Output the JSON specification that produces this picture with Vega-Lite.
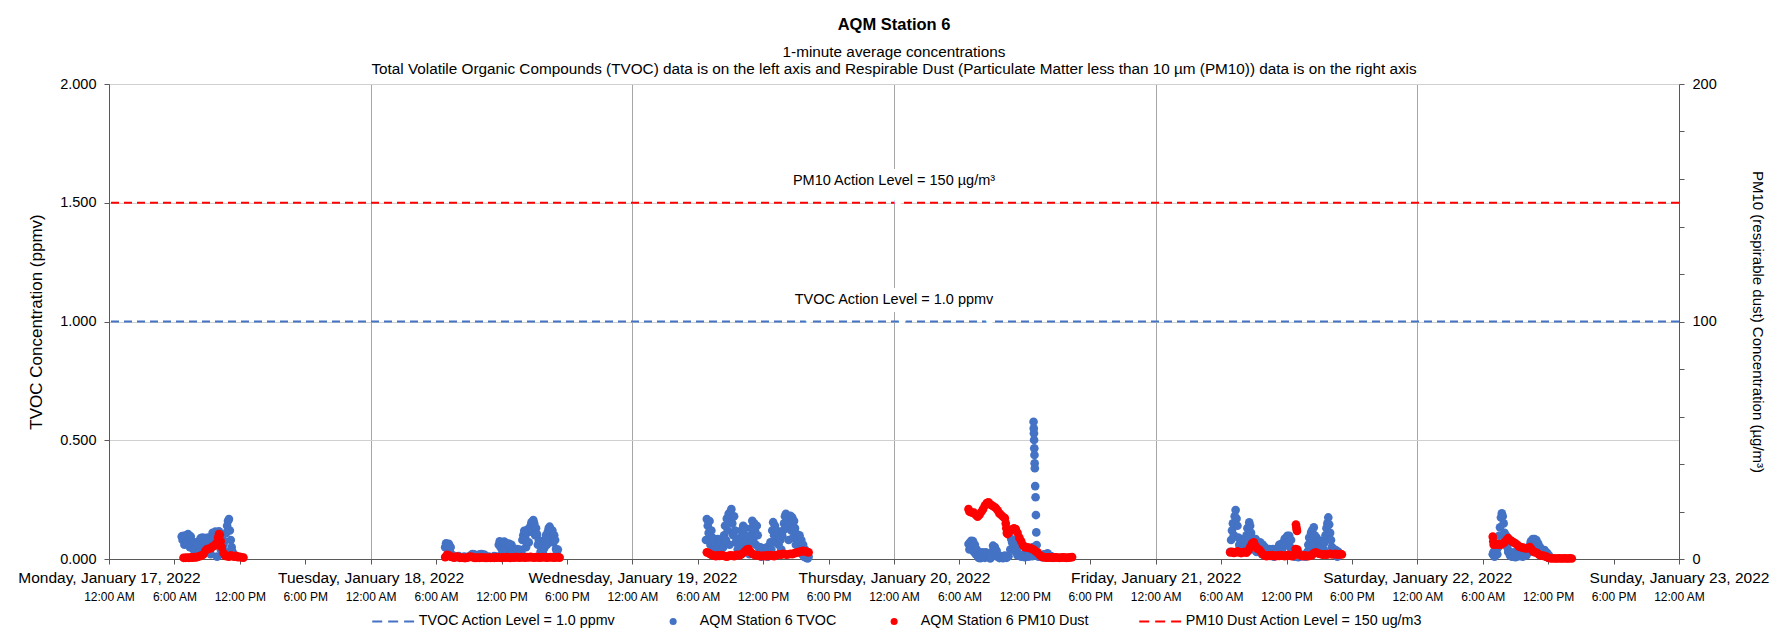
{
  "$schema": "https://vega.github.io/schema/vega-lite/v6.json",
  "width": 1570,
  "height": 475,
  "autosize": {"type": "none"},
  "padding": {"left": 109, "top": 84, "right": 102, "bottom": 80},
  "background": "white",
  "title": {
    "text": "AQM Station 6",
    "subtitle": ["1-minute average concentrations", "Total Volatile Organic Compounds (TVOC) data is on the left axis and Respirable Dust (Particulate Matter less than 10 µm (PM10)) data is on the right axis"],
    "anchor": "middle",
    "font": "Liberation Sans",
    "fontSize": 16.5,
    "fontWeight": "bold",
    "color": "#000000",
    "subtitleFont": "Liberation Sans",
    "subtitleFontSize": 15.3,
    "subtitleColor": "#000000",
    "subtitlePadding": 11,
    "subtitleLineHeight": 17,
    "offset": -1
  },
  "config": {
    "font": "Liberation Sans",
    "view": {"stroke": null},
    "axis": {"labelFont": "Liberation Sans", "titleFont": "Liberation Sans", "labelColor": "#000000", "titleColor": "#000000", "titleFontWeight": "normal", "labelLimit": 0}
  },
  "datasets": {
    "tvoc": [
      {"t":"2022-01-17T06:40","v":0.095},{"t":"2022-01-17T06:45","v":0.080},{"t":"2022-01-17T06:50","v":0.098},{"t":"2022-01-17T06:55","v":0.060},{"t":"2022-01-17T07:00","v":0.090},{"t":"2022-01-17T07:05","v":0.100},{"t":"2022-01-17T07:10","v":0.070},{"t":"2022-01-17T07:15","v":0.105},{"t":"2022-01-17T07:20","v":0.085},{"t":"2022-01-17T07:25","v":0.050},{"t":"2022-01-17T07:30","v":0.095},{"t":"2022-01-17T07:35","v":0.075},{"t":"2022-01-17T07:40","v":0.060},{"t":"2022-01-17T07:45","v":0.040},{"t":"2022-01-17T07:50","v":0.068},{"t":"2022-01-17T07:55","v":0.030},{"t":"2022-01-17T08:00","v":0.070},{"t":"2022-01-17T08:05","v":0.050},{"t":"2022-01-17T08:10","v":0.065},{"t":"2022-01-17T08:15","v":0.035},{"t":"2022-01-17T08:20","v":0.080},{"t":"2022-01-17T08:25","v":0.088},{"t":"2022-01-17T08:30","v":0.060},{"t":"2022-01-17T08:35","v":0.090},{"t":"2022-01-17T08:40","v":0.070},{"t":"2022-01-17T08:45","v":0.045},{"t":"2022-01-17T08:50","v":0.088},{"t":"2022-01-17T08:55","v":0.065},{"t":"2022-01-17T09:00","v":0.030},{"t":"2022-01-17T09:05","v":0.090},{"t":"2022-01-17T09:10","v":0.055},{"t":"2022-01-17T09:15","v":0.075},{"t":"2022-01-17T09:20","v":0.020},{"t":"2022-01-17T09:25","v":0.085},{"t":"2022-01-17T09:30","v":0.110},{"t":"2022-01-17T09:35","v":0.090},{"t":"2022-01-17T09:40","v":0.060},{"t":"2022-01-17T09:45","v":0.115},{"t":"2022-01-17T09:50","v":0.080},{"t":"2022-01-17T09:55","v":0.010},{"t":"2022-01-17T10:00","v":0.100},{"t":"2022-01-17T10:05","v":0.117},{"t":"2022-01-17T10:10","v":0.070},{"t":"2022-01-17T10:15","v":0.040},{"t":"2022-01-17T10:20","v":0.080},{"t":"2022-01-17T10:25","v":0.020},{"t":"2022-01-17T10:30","v":0.060},{"t":"2022-01-17T10:35","v":0.075},{"t":"2022-01-17T10:40","v":0.030},{"t":"2022-01-17T10:45","v":0.110},{"t":"2022-01-17T10:50","v":0.140},{"t":"2022-01-17T10:55","v":0.160},{"t":"2022-01-17T11:00","v":0.168},{"t":"2022-01-17T11:05","v":0.120},{"t":"2022-01-17T11:10","v":0.080},{"t":"2022-01-17T11:15","v":0.050},{"t":"2022-01-17T11:20","v":0.030},

      {"t":"2022-01-18T06:50","v":0.050},{"t":"2022-01-18T06:55","v":0.066},{"t":"2022-01-18T07:00","v":0.060},{"t":"2022-01-18T07:05","v":0.040},{"t":"2022-01-18T07:10","v":0.064},{"t":"2022-01-18T07:15","v":0.030},{"t":"2022-01-18T07:20","v":0.050},{"t":"2022-01-18T07:25","v":0.020},{"t":"2022-01-18T07:35","v":0.010},{"t":"2022-01-18T07:50","v":0.008},{"t":"2022-01-18T08:05","v":0.012},{"t":"2022-01-18T08:20","v":0.006},{"t":"2022-01-18T08:35","v":0.010},{"t":"2022-01-18T08:50","v":0.008},{"t":"2022-01-18T09:05","v":0.012},{"t":"2022-01-18T09:15","v":0.018},{"t":"2022-01-18T09:20","v":0.021},{"t":"2022-01-18T09:25","v":0.010},{"t":"2022-01-18T09:30","v":0.020},{"t":"2022-01-18T09:40","v":0.008},{"t":"2022-01-18T09:50","v":0.015},{"t":"2022-01-18T10:00","v":0.020},{"t":"2022-01-18T10:10","v":0.021},{"t":"2022-01-18T10:15","v":0.012},{"t":"2022-01-18T10:25","v":0.019},{"t":"2022-01-18T10:35","v":0.008},{"t":"2022-01-18T10:50","v":0.010},{"t":"2022-01-18T11:05","v":0.006},{"t":"2022-01-18T11:20","v":0.012},{"t":"2022-01-18T11:35","v":0.010},{"t":"2022-01-18T11:45","v":0.060},{"t":"2022-01-18T11:50","v":0.074},{"t":"2022-01-18T11:55","v":0.050},{"t":"2022-01-18T12:00","v":0.070},{"t":"2022-01-18T12:05","v":0.030},{"t":"2022-01-18T12:10","v":0.060},{"t":"2022-01-18T12:15","v":0.073},{"t":"2022-01-18T12:20","v":0.045},{"t":"2022-01-18T12:25","v":0.066},{"t":"2022-01-18T12:30","v":0.060},{"t":"2022-01-18T12:35","v":0.030},{"t":"2022-01-18T12:40","v":0.065},{"t":"2022-01-18T12:45","v":0.050},{"t":"2022-01-18T12:50","v":0.020},{"t":"2022-01-18T12:55","v":0.060},{"t":"2022-01-18T13:00","v":0.040},{"t":"2022-01-18T13:05","v":0.030},{"t":"2022-01-18T13:10","v":0.042},{"t":"2022-01-18T13:15","v":0.025},{"t":"2022-01-18T13:20","v":0.040},{"t":"2022-01-18T13:25","v":0.042},{"t":"2022-01-18T13:30","v":0.020},{"t":"2022-01-18T13:35","v":0.035},{"t":"2022-01-18T13:40","v":0.040},{"t":"2022-01-18T13:45","v":0.015},{"t":"2022-01-18T13:50","v":0.030},{"t":"2022-01-18T13:55","v":0.080},{"t":"2022-01-18T14:00","v":0.100},{"t":"2022-01-18T14:05","v":0.119},{"t":"2022-01-18T14:10","v":0.090},{"t":"2022-01-18T14:15","v":0.050},{"t":"2022-01-18T14:20","v":0.110},{"t":"2022-01-18T14:25","v":0.125},{"t":"2022-01-18T14:30","v":0.070},{"t":"2022-01-18T14:35","v":0.115},{"t":"2022-01-18T14:40","v":0.140},{"t":"2022-01-18T14:45","v":0.155},{"t":"2022-01-18T14:50","v":0.120},{"t":"2022-01-18T14:55","v":0.164},{"t":"2022-01-18T15:00","v":0.150},{"t":"2022-01-18T15:05","v":0.100},{"t":"2022-01-18T15:10","v":0.130},{"t":"2022-01-18T15:15","v":0.105},{"t":"2022-01-18T15:20","v":0.060},{"t":"2022-01-18T15:25","v":0.080},{"t":"2022-01-18T15:30","v":0.063},{"t":"2022-01-18T15:35","v":0.030},{"t":"2022-01-18T15:40","v":0.050},{"t":"2022-01-18T15:45","v":0.060},{"t":"2022-01-18T15:50","v":0.020},{"t":"2022-01-18T15:55","v":0.045},{"t":"2022-01-18T16:00","v":0.080},{"t":"2022-01-18T16:05","v":0.100},{"t":"2022-01-18T16:10","v":0.060},{"t":"2022-01-18T16:15","v":0.115},{"t":"2022-01-18T16:20","v":0.130},{"t":"2022-01-18T16:25","v":0.136},{"t":"2022-01-18T16:30","v":0.110},{"t":"2022-01-18T16:35","v":0.090},{"t":"2022-01-18T16:40","v":0.120},{"t":"2022-01-18T16:45","v":0.070},{"t":"2022-01-18T16:50","v":0.100},{"t":"2022-01-18T16:55","v":0.080},{"t":"2022-01-18T17:00","v":0.042},{"t":"2022-01-18T17:05","v":0.030},{"t":"2022-01-18T17:10","v":0.040},

      {"t":"2022-01-19T06:45","v":0.080},{"t":"2022-01-19T06:50","v":0.168},{"t":"2022-01-19T06:55","v":0.140},{"t":"2022-01-19T07:00","v":0.110},{"t":"2022-01-19T07:05","v":0.160},{"t":"2022-01-19T07:10","v":0.060},{"t":"2022-01-19T07:15","v":0.120},{"t":"2022-01-19T07:20","v":0.090},{"t":"2022-01-19T07:25","v":0.040},{"t":"2022-01-19T07:30","v":0.070},{"t":"2022-01-19T07:35","v":0.030},{"t":"2022-01-19T07:40","v":0.060},{"t":"2022-01-19T07:45","v":0.020},{"t":"2022-01-19T07:50","v":0.084},{"t":"2022-01-19T07:55","v":0.050},{"t":"2022-01-19T08:00","v":0.080},{"t":"2022-01-19T08:05","v":0.030},{"t":"2022-01-19T08:10","v":0.070},{"t":"2022-01-19T08:15","v":0.084},{"t":"2022-01-19T08:20","v":0.050},{"t":"2022-01-19T08:25","v":0.100},{"t":"2022-01-19T08:30","v":0.140},{"t":"2022-01-19T08:35","v":0.080},{"t":"2022-01-19T08:40","v":0.170},{"t":"2022-01-19T08:45","v":0.120},{"t":"2022-01-19T08:50","v":0.190},{"t":"2022-01-19T08:55","v":0.060},{"t":"2022-01-19T09:00","v":0.200},{"t":"2022-01-19T09:05","v":0.210},{"t":"2022-01-19T09:10","v":0.150},{"t":"2022-01-19T09:15","v":0.100},{"t":"2022-01-19T09:20","v":0.180},{"t":"2022-01-19T09:25","v":0.120},{"t":"2022-01-19T09:30","v":0.070},{"t":"2022-01-19T09:35","v":0.077},{"t":"2022-01-19T09:40","v":0.040},{"t":"2022-01-19T09:45","v":0.060},{"t":"2022-01-19T09:50","v":0.020},{"t":"2022-01-19T09:55","v":0.090},{"t":"2022-01-19T10:00","v":0.120},{"t":"2022-01-19T10:05","v":0.060},{"t":"2022-01-19T10:10","v":0.140},{"t":"2022-01-19T10:15","v":0.100},{"t":"2022-01-19T10:20","v":0.130},{"t":"2022-01-19T10:25","v":0.050},{"t":"2022-01-19T10:30","v":0.077},{"t":"2022-01-19T10:35","v":0.030},{"t":"2022-01-19T10:40","v":0.060},{"t":"2022-01-19T10:45","v":0.020},{"t":"2022-01-19T10:50","v":0.100},{"t":"2022-01-19T10:55","v":0.130},{"t":"2022-01-19T11:00","v":0.161},{"t":"2022-01-19T11:05","v":0.080},{"t":"2022-01-19T11:10","v":0.150},{"t":"2022-01-19T11:15","v":0.120},{"t":"2022-01-19T11:20","v":0.060},{"t":"2022-01-19T11:25","v":0.140},{"t":"2022-01-19T11:30","v":0.100},{"t":"2022-01-19T11:35","v":0.050},{"t":"2022-01-19T11:40","v":0.030},{"t":"2022-01-19T11:45","v":0.049},{"t":"2022-01-19T11:50","v":0.010},{"t":"2022-01-19T11:55","v":0.040},{"t":"2022-01-19T12:00","v":0.020},{"t":"2022-01-19T12:05","v":0.045},{"t":"2022-01-19T12:10","v":0.015},{"t":"2022-01-19T12:15","v":0.040},{"t":"2022-01-19T12:20","v":0.049},{"t":"2022-01-19T12:25","v":0.010},{"t":"2022-01-19T12:30","v":0.035},{"t":"2022-01-19T12:35","v":0.020},{"t":"2022-01-19T12:40","v":0.070},{"t":"2022-01-19T12:45","v":0.040},{"t":"2022-01-19T12:50","v":0.120},{"t":"2022-01-19T12:55","v":0.155},{"t":"2022-01-19T13:00","v":0.100},{"t":"2022-01-19T13:05","v":0.140},{"t":"2022-01-19T13:10","v":0.070},{"t":"2022-01-19T13:15","v":0.120},{"t":"2022-01-19T13:20","v":0.098},{"t":"2022-01-19T13:25","v":0.060},{"t":"2022-01-19T13:30","v":0.090},{"t":"2022-01-19T13:35","v":0.080},{"t":"2022-01-19T13:40","v":0.040},{"t":"2022-01-19T13:45","v":0.098},{"t":"2022-01-19T13:50","v":0.120},{"t":"2022-01-19T13:55","v":0.150},{"t":"2022-01-19T14:00","v":0.180},{"t":"2022-01-19T14:05","v":0.190},{"t":"2022-01-19T14:10","v":0.130},{"t":"2022-01-19T14:15","v":0.170},{"t":"2022-01-19T14:20","v":0.080},{"t":"2022-01-19T14:25","v":0.140},{"t":"2022-01-19T14:30","v":0.182},{"t":"2022-01-19T14:35","v":0.120},{"t":"2022-01-19T14:40","v":0.175},{"t":"2022-01-19T14:45","v":0.090},{"t":"2022-01-19T14:50","v":0.160},{"t":"2022-01-19T14:55","v":0.130},{"t":"2022-01-19T15:00","v":0.060},{"t":"2022-01-19T15:05","v":0.105},{"t":"2022-01-19T15:10","v":0.090},{"t":"2022-01-19T15:15","v":0.070},{"t":"2022-01-19T15:20","v":0.100},{"t":"2022-01-19T15:25","v":0.040},{"t":"2022-01-19T15:30","v":0.080},{"t":"2022-01-19T15:35","v":0.020},{"t":"2022-01-19T15:40","v":0.060},{"t":"2022-01-19T15:45","v":0.010},{"t":"2022-01-19T15:50","v":0.040},{"t":"2022-01-19T15:55","v":0.005},{"t":"2022-01-19T16:00","v":0.030},{"t":"2022-01-19T16:05","v":0.002},{"t":"2022-01-19T16:10","v":0.010},

      {"t":"2022-01-20T06:50","v":0.063},{"t":"2022-01-20T06:55","v":0.040},{"t":"2022-01-20T07:00","v":0.070},{"t":"2022-01-20T07:05","v":0.077},{"t":"2022-01-20T07:10","v":0.050},{"t":"2022-01-20T07:15","v":0.075},{"t":"2022-01-20T07:20","v":0.030},{"t":"2022-01-20T07:25","v":0.060},{"t":"2022-01-20T07:30","v":0.020},{"t":"2022-01-20T07:35","v":0.040},{"t":"2022-01-20T07:40","v":0.014},{"t":"2022-01-20T07:45","v":0.005},{"t":"2022-01-20T07:50","v":0.012},{"t":"2022-01-20T07:55","v":0.003},{"t":"2022-01-20T08:00","v":0.014},{"t":"2022-01-20T08:05","v":0.028},{"t":"2022-01-20T08:10","v":0.015},{"t":"2022-01-20T08:15","v":0.025},{"t":"2022-01-20T08:20","v":0.005},{"t":"2022-01-20T08:25","v":0.028},{"t":"2022-01-20T08:30","v":0.012},{"t":"2022-01-20T08:35","v":0.020},{"t":"2022-01-20T08:40","v":0.008},{"t":"2022-01-20T08:45","v":0.010},{"t":"2022-01-20T08:50","v":0.002},{"t":"2022-01-20T08:55","v":0.009},{"t":"2022-01-20T09:00","v":0.030},{"t":"2022-01-20T09:05","v":0.056},{"t":"2022-01-20T09:10","v":0.040},{"t":"2022-01-20T09:15","v":0.050},{"t":"2022-01-20T09:20","v":0.020},{"t":"2022-01-20T09:25","v":0.035},{"t":"2022-01-20T09:30","v":0.010},{"t":"2022-01-20T09:35","v":0.014},{"t":"2022-01-20T09:40","v":0.004},{"t":"2022-01-20T09:50","v":0.012},{"t":"2022-01-20T10:00","v":0.003},{"t":"2022-01-20T10:10","v":0.014},{"t":"2022-01-20T10:20","v":0.005},{"t":"2022-01-20T10:30","v":0.012},{"t":"2022-01-20T10:40","v":0.040},{"t":"2022-01-20T10:45","v":0.084},{"t":"2022-01-20T10:50","v":0.070},{"t":"2022-01-20T10:55","v":0.080},{"t":"2022-01-20T11:00","v":0.050},{"t":"2022-01-20T11:05","v":0.060},{"t":"2022-01-20T11:10","v":0.030},{"t":"2022-01-20T11:15","v":0.040},{"t":"2022-01-20T11:20","v":0.015},{"t":"2022-01-20T11:30","v":0.020},{"t":"2022-01-20T11:40","v":0.010},{"t":"2022-01-20T11:50","v":0.018},{"t":"2022-01-20T12:00","v":0.008},{"t":"2022-01-20T12:10","v":0.015},{"t":"2022-01-20T12:20","v":0.010},{"t":"2022-01-20T12:30","v":0.020},{"t":"2022-01-20T12:40","v":0.012},{"t":"2022-01-20T12:46","v":0.050},{"t":"2022-01-20T12:48","v":0.578},{"t":"2022-01-20T12:49","v":0.550},{"t":"2022-01-20T12:50","v":0.529},{"t":"2022-01-20T12:51","v":0.501},{"t":"2022-01-20T12:52","v":0.466},{"t":"2022-01-20T12:53","v":0.438},{"t":"2022-01-20T12:54","v":0.403},{"t":"2022-01-20T12:55","v":0.382},{"t":"2022-01-20T12:57","v":0.307},{"t":"2022-01-20T12:59","v":0.260},{"t":"2022-01-20T13:01","v":0.185},{"t":"2022-01-20T13:03","v":0.112},{"t":"2022-01-20T13:05","v":0.059},{"t":"2022-01-20T13:07","v":0.024},{"t":"2022-01-20T13:15","v":0.010},{"t":"2022-01-20T13:25","v":0.015},{"t":"2022-01-20T13:35","v":0.008},{"t":"2022-01-20T13:45","v":0.020},{"t":"2022-01-20T13:55","v":0.010},{"t":"2022-01-20T14:05","v":0.024},{"t":"2022-01-20T14:15","v":0.008},{"t":"2022-01-20T14:25","v":0.012},{"t":"2022-01-20T14:35","v":0.005},

      {"t":"2022-01-21T06:50","v":0.030},{"t":"2022-01-21T06:55","v":0.080},{"t":"2022-01-21T07:00","v":0.120},{"t":"2022-01-21T07:05","v":0.150},{"t":"2022-01-21T07:10","v":0.100},{"t":"2022-01-21T07:15","v":0.180},{"t":"2022-01-21T07:20","v":0.206},{"t":"2022-01-21T07:25","v":0.170},{"t":"2022-01-21T07:30","v":0.140},{"t":"2022-01-21T07:35","v":0.090},{"t":"2022-01-21T07:40","v":0.060},{"t":"2022-01-21T07:45","v":0.084},{"t":"2022-01-21T07:50","v":0.040},{"t":"2022-01-21T07:55","v":0.070},{"t":"2022-01-21T08:00","v":0.030},{"t":"2022-01-21T08:05","v":0.080},{"t":"2022-01-21T08:10","v":0.050},{"t":"2022-01-21T08:15","v":0.084},{"t":"2022-01-21T08:20","v":0.100},{"t":"2022-01-21T08:25","v":0.130},{"t":"2022-01-21T08:30","v":0.080},{"t":"2022-01-21T08:35","v":0.154},{"t":"2022-01-21T08:40","v":0.140},{"t":"2022-01-21T08:45","v":0.110},{"t":"2022-01-21T08:50","v":0.060},{"t":"2022-01-21T08:55","v":0.084},{"t":"2022-01-21T09:00","v":0.040},{"t":"2022-01-21T09:05","v":0.070},{"t":"2022-01-21T09:10","v":0.084},{"t":"2022-01-21T09:15","v":0.030},{"t":"2022-01-21T09:20","v":0.060},{"t":"2022-01-21T09:25","v":0.070},{"t":"2022-01-21T09:30","v":0.040},{"t":"2022-01-21T09:35","v":0.070},{"t":"2022-01-21T09:40","v":0.050},{"t":"2022-01-21T09:45","v":0.020},{"t":"2022-01-21T09:50","v":0.060},{"t":"2022-01-21T09:55","v":0.035},{"t":"2022-01-21T10:00","v":0.050},{"t":"2022-01-21T10:05","v":0.042},{"t":"2022-01-21T10:10","v":0.020},{"t":"2022-01-21T10:15","v":0.040},{"t":"2022-01-21T10:20","v":0.030},{"t":"2022-01-21T10:25","v":0.042},{"t":"2022-01-21T10:30","v":0.015},{"t":"2022-01-21T10:35","v":0.038},{"t":"2022-01-21T10:40","v":0.025},{"t":"2022-01-21T10:45","v":0.042},{"t":"2022-01-21T10:50","v":0.010},{"t":"2022-01-21T10:55","v":0.035},{"t":"2022-01-21T11:00","v":0.040},{"t":"2022-01-21T11:05","v":0.020},{"t":"2022-01-21T11:10","v":0.042},{"t":"2022-01-21T11:15","v":0.030},{"t":"2022-01-21T11:20","v":0.060},{"t":"2022-01-21T11:25","v":0.040},{"t":"2022-01-21T11:30","v":0.063},{"t":"2022-01-21T11:35","v":0.030},{"t":"2022-01-21T11:40","v":0.050},{"t":"2022-01-21T11:45","v":0.070},{"t":"2022-01-21T11:50","v":0.085},{"t":"2022-01-21T11:55","v":0.060},{"t":"2022-01-21T12:00","v":0.090},{"t":"2022-01-21T12:05","v":0.098},{"t":"2022-01-21T12:10","v":0.070},{"t":"2022-01-21T12:15","v":0.098},{"t":"2022-01-21T12:20","v":0.050},{"t":"2022-01-21T12:25","v":0.080},{"t":"2022-01-21T12:30","v":0.030},{"t":"2022-01-21T12:35","v":0.020},{"t":"2022-01-21T12:45","v":0.010},{"t":"2022-01-21T12:55","v":0.020},{"t":"2022-01-21T13:05","v":0.008},{"t":"2022-01-21T13:15","v":0.020},{"t":"2022-01-21T13:25","v":0.012},{"t":"2022-01-21T13:35","v":0.018},{"t":"2022-01-21T13:45","v":0.010},{"t":"2022-01-21T13:55","v":0.030},{"t":"2022-01-21T14:00","v":0.060},{"t":"2022-01-21T14:05","v":0.090},{"t":"2022-01-21T14:10","v":0.050},{"t":"2022-01-21T14:15","v":0.110},{"t":"2022-01-21T14:20","v":0.120},{"t":"2022-01-21T14:25","v":0.080},{"t":"2022-01-21T14:30","v":0.133},{"t":"2022-01-21T14:35","v":0.100},{"t":"2022-01-21T14:40","v":0.060},{"t":"2022-01-21T14:45","v":0.090},{"t":"2022-01-21T14:50","v":0.077},{"t":"2022-01-21T14:55","v":0.040},{"t":"2022-01-21T15:00","v":0.070},{"t":"2022-01-21T15:05","v":0.077},{"t":"2022-01-21T15:10","v":0.030},{"t":"2022-01-21T15:15","v":0.060},{"t":"2022-01-21T15:20","v":0.077},{"t":"2022-01-21T15:25","v":0.040},{"t":"2022-01-21T15:30","v":0.070},{"t":"2022-01-21T15:35","v":0.100},{"t":"2022-01-21T15:40","v":0.130},{"t":"2022-01-21T15:45","v":0.150},{"t":"2022-01-21T15:50","v":0.175},{"t":"2022-01-21T15:55","v":0.145},{"t":"2022-01-21T16:00","v":0.110},{"t":"2022-01-21T16:05","v":0.080},{"t":"2022-01-21T16:10","v":0.050},{"t":"2022-01-21T16:15","v":0.040},{"t":"2022-01-21T16:20","v":0.030},{"t":"2022-01-21T16:25","v":0.040},{"t":"2022-01-21T16:30","v":0.020},{"t":"2022-01-21T16:35","v":0.035},{"t":"2022-01-21T16:40","v":0.010},{"t":"2022-01-21T16:45","v":0.030},{"t":"2022-01-21T16:50","v":0.020},

      {"t":"2022-01-22T06:55","v":0.020},{"t":"2022-01-22T07:00","v":0.030},{"t":"2022-01-22T07:05","v":0.010},{"t":"2022-01-22T07:10","v":0.028},{"t":"2022-01-22T07:15","v":0.040},{"t":"2022-01-22T07:20","v":0.020},{"t":"2022-01-22T07:25","v":0.050},{"t":"2022-01-22T07:30","v":0.098},{"t":"2022-01-22T07:35","v":0.133},{"t":"2022-01-22T07:40","v":0.175},{"t":"2022-01-22T07:45","v":0.192},{"t":"2022-01-22T07:50","v":0.180},{"t":"2022-01-22T07:55","v":0.150},{"t":"2022-01-22T08:00","v":0.110},{"t":"2022-01-22T08:05","v":0.080},{"t":"2022-01-22T08:10","v":0.098},{"t":"2022-01-22T08:15","v":0.050},{"t":"2022-01-22T08:20","v":0.030},{"t":"2022-01-22T08:25","v":0.028},{"t":"2022-01-22T08:30","v":0.015},{"t":"2022-01-22T08:35","v":0.028},{"t":"2022-01-22T08:40","v":0.010},{"t":"2022-01-22T08:45","v":0.025},{"t":"2022-01-22T08:50","v":0.018},{"t":"2022-01-22T08:55","v":0.028},{"t":"2022-01-22T09:00","v":0.008},{"t":"2022-01-22T09:10","v":0.020},{"t":"2022-01-22T09:20","v":0.012},{"t":"2022-01-22T09:30","v":0.025},{"t":"2022-01-22T09:40","v":0.010},{"t":"2022-01-22T09:50","v":0.020},{"t":"2022-01-22T10:00","v":0.015},{"t":"2022-01-22T10:10","v":0.028},{"t":"2022-01-22T10:15","v":0.040},{"t":"2022-01-22T10:20","v":0.060},{"t":"2022-01-22T10:25","v":0.075},{"t":"2022-01-22T10:30","v":0.050},{"t":"2022-01-22T10:35","v":0.084},{"t":"2022-01-22T10:40","v":0.070},{"t":"2022-01-22T10:45","v":0.084},{"t":"2022-01-22T10:50","v":0.060},{"t":"2022-01-22T10:55","v":0.080},{"t":"2022-01-22T11:00","v":0.040},{"t":"2022-01-22T11:05","v":0.065},{"t":"2022-01-22T11:10","v":0.030},{"t":"2022-01-22T11:15","v":0.050},{"t":"2022-01-22T11:20","v":0.020},{"t":"2022-01-22T11:25","v":0.030},{"t":"2022-01-22T11:30","v":0.038},{"t":"2022-01-22T11:35","v":0.015},{"t":"2022-01-22T11:40","v":0.038},{"t":"2022-01-22T11:45","v":0.030},{"t":"2022-01-22T11:50","v":0.010},{"t":"2022-01-22T11:55","v":0.025},{"t":"2022-01-22T12:00","v":0.005},{"t":"2022-01-22T12:05","v":0.015}
    ],
    "pm": [
      {"t":"2022-01-17T06:50","v":0.5},{"t":"2022-01-17T07:00","v":0.5},{"t":"2022-01-17T07:10","v":0.6},{"t":"2022-01-17T07:20","v":0.5},{"t":"2022-01-17T07:30","v":0.7},{"t":"2022-01-17T07:40","v":0.6},{"t":"2022-01-17T07:50","v":0.8},{"t":"2022-01-17T08:00","v":0.7},{"t":"2022-01-17T08:10","v":1.0},{"t":"2022-01-17T08:20","v":1.2},{"t":"2022-01-17T08:30","v":1.5},{"t":"2022-01-17T08:40","v":2.0},{"t":"2022-01-17T08:50","v":3.5},{"t":"2022-01-17T09:00","v":4.2},{"t":"2022-01-17T09:10","v":4.3},{"t":"2022-01-17T09:20","v":4.6},{"t":"2022-01-17T09:30","v":5.2},{"t":"2022-01-17T09:40","v":5.6},{"t":"2022-01-17T09:50","v":6.5},{"t":"2022-01-17T10:00","v":9.0},{"t":"2022-01-17T10:05","v":10.5},{"t":"2022-01-17T10:10","v":10.2},{"t":"2022-01-17T10:15","v":7.5},{"t":"2022-01-17T10:20","v":5.0},{"t":"2022-01-17T10:30","v":2.5},{"t":"2022-01-17T10:40","v":1.3},{"t":"2022-01-17T10:50","v":1.2},{"t":"2022-01-17T11:00","v":1.0},{"t":"2022-01-17T11:10","v":1.5},{"t":"2022-01-17T11:20","v":1.2},{"t":"2022-01-17T11:30","v":1.0},{"t":"2022-01-17T11:40","v":1.3},{"t":"2022-01-17T11:50","v":0.8},{"t":"2022-01-17T12:00","v":0.9},{"t":"2022-01-17T12:10","v":0.7},{"t":"2022-01-17T12:20","v":0.6},

      {"t":"2022-01-18T06:50","v":0.8},{"t":"2022-01-18T07:00","v":1.8},{"t":"2022-01-18T07:10","v":1.5},{"t":"2022-01-18T07:20","v":1.0},{"t":"2022-01-18T07:30","v":0.8},{"t":"2022-01-18T07:40","v":0.6},{"t":"2022-01-18T07:50","v":1.0},{"t":"2022-01-18T08:00","v":0.9},{"t":"2022-01-18T08:10","v":0.5},{"t":"2022-01-18T08:20","v":0.6},{"t":"2022-01-18T08:30","v":0.5},{"t":"2022-01-18T08:40","v":0.4},{"t":"2022-01-18T08:50","v":0.6},{"t":"2022-01-18T09:00","v":0.8},{"t":"2022-01-18T09:10","v":1.0},{"t":"2022-01-18T09:20","v":0.8},{"t":"2022-01-18T09:30","v":0.5},{"t":"2022-01-18T09:40","v":0.5},{"t":"2022-01-18T09:50","v":0.6},{"t":"2022-01-18T10:00","v":0.5},{"t":"2022-01-18T10:10","v":0.7},{"t":"2022-01-18T10:20","v":0.6},{"t":"2022-01-18T10:30","v":0.5},{"t":"2022-01-18T10:40","v":0.5},{"t":"2022-01-18T10:50","v":0.6},{"t":"2022-01-18T11:00","v":0.5},{"t":"2022-01-18T11:10","v":0.6},{"t":"2022-01-18T11:20","v":0.5},{"t":"2022-01-18T11:30","v":0.6},{"t":"2022-01-18T11:40","v":0.7},{"t":"2022-01-18T11:50","v":0.6},{"t":"2022-01-18T12:00","v":0.5},{"t":"2022-01-18T12:10","v":0.7},{"t":"2022-01-18T12:20","v":0.6},{"t":"2022-01-18T12:30","v":0.8},{"t":"2022-01-18T12:40","v":0.6},{"t":"2022-01-18T12:50","v":0.5},{"t":"2022-01-18T13:00","v":0.7},{"t":"2022-01-18T13:10","v":0.6},{"t":"2022-01-18T13:20","v":0.8},{"t":"2022-01-18T13:30","v":0.7},{"t":"2022-01-18T13:40","v":0.6},{"t":"2022-01-18T13:50","v":0.8},{"t":"2022-01-18T14:00","v":0.7},{"t":"2022-01-18T14:10","v":0.6},{"t":"2022-01-18T14:20","v":0.8},{"t":"2022-01-18T14:30","v":0.7},{"t":"2022-01-18T14:40","v":0.9},{"t":"2022-01-18T14:50","v":0.7},{"t":"2022-01-18T15:00","v":0.6},{"t":"2022-01-18T15:10","v":0.8},{"t":"2022-01-18T15:20","v":0.7},{"t":"2022-01-18T15:30","v":0.6},{"t":"2022-01-18T15:40","v":0.7},{"t":"2022-01-18T15:50","v":0.8},{"t":"2022-01-18T16:00","v":0.7},{"t":"2022-01-18T16:10","v":0.6},{"t":"2022-01-18T16:20","v":0.7},{"t":"2022-01-18T16:30","v":0.8},{"t":"2022-01-18T16:40","v":0.7},{"t":"2022-01-18T16:50","v":0.6},{"t":"2022-01-18T17:00","v":0.7},{"t":"2022-01-18T17:10","v":0.8},{"t":"2022-01-18T17:20","v":0.6},

      {"t":"2022-01-19T06:50","v":2.8},{"t":"2022-01-19T07:00","v":2.5},{"t":"2022-01-19T07:10","v":2.0},{"t":"2022-01-19T07:20","v":1.6},{"t":"2022-01-19T07:30","v":1.4},{"t":"2022-01-19T07:40","v":1.2},{"t":"2022-01-19T07:50","v":1.5},{"t":"2022-01-19T08:00","v":1.3},{"t":"2022-01-19T08:10","v":1.6},{"t":"2022-01-19T08:20","v":1.4},{"t":"2022-01-19T08:30","v":1.2},{"t":"2022-01-19T08:40","v":1.0},{"t":"2022-01-19T08:50","v":1.3},{"t":"2022-01-19T09:00","v":1.5},{"t":"2022-01-19T09:10","v":1.4},{"t":"2022-01-19T09:20","v":1.2},{"t":"2022-01-19T09:30","v":1.6},{"t":"2022-01-19T09:40","v":1.8},{"t":"2022-01-19T09:50","v":1.5},{"t":"2022-01-19T10:00","v":2.0},{"t":"2022-01-19T10:10","v":2.5},{"t":"2022-01-19T10:20","v":3.2},{"t":"2022-01-19T10:30","v":4.0},{"t":"2022-01-19T10:40","v":4.2},{"t":"2022-01-19T10:50","v":3.0},{"t":"2022-01-19T11:00","v":2.2},{"t":"2022-01-19T11:10","v":1.8},{"t":"2022-01-19T11:20","v":1.5},{"t":"2022-01-19T11:30","v":1.6},{"t":"2022-01-19T11:40","v":1.3},{"t":"2022-01-19T11:50","v":1.2},{"t":"2022-01-19T12:00","v":1.4},{"t":"2022-01-19T12:10","v":1.2},{"t":"2022-01-19T12:20","v":1.5},{"t":"2022-01-19T12:30","v":1.3},{"t":"2022-01-19T12:40","v":1.6},{"t":"2022-01-19T12:50","v":1.4},{"t":"2022-01-19T13:00","v":1.2},{"t":"2022-01-19T13:10","v":1.5},{"t":"2022-01-19T13:20","v":1.8},{"t":"2022-01-19T13:30","v":2.0},{"t":"2022-01-19T13:40","v":1.8},{"t":"2022-01-19T13:50","v":2.2},{"t":"2022-01-19T14:00","v":2.0},{"t":"2022-01-19T14:10","v":1.8},{"t":"2022-01-19T14:20","v":2.0},{"t":"2022-01-19T14:30","v":2.2},{"t":"2022-01-19T14:40","v":2.0},{"t":"2022-01-19T14:50","v":2.4},{"t":"2022-01-19T15:00","v":2.6},{"t":"2022-01-19T15:10","v":2.8},{"t":"2022-01-19T15:20","v":3.0},{"t":"2022-01-19T15:30","v":3.2},{"t":"2022-01-19T15:40","v":3.4},{"t":"2022-01-19T15:50","v":3.2},{"t":"2022-01-19T16:00","v":3.0},{"t":"2022-01-19T16:10","v":2.8},

      {"t":"2022-01-20T06:50","v":21.0},{"t":"2022-01-20T06:55","v":20.0},{"t":"2022-01-20T07:00","v":19.8},{"t":"2022-01-20T07:10","v":19.5},{"t":"2022-01-20T07:20","v":19.5},{"t":"2022-01-20T07:30","v":18.5},{"t":"2022-01-20T07:40","v":17.8},{"t":"2022-01-20T07:50","v":18.5},{"t":"2022-01-20T08:00","v":19.8},{"t":"2022-01-20T08:10","v":21.0},{"t":"2022-01-20T08:20","v":22.5},{"t":"2022-01-20T08:30","v":23.5},{"t":"2022-01-20T08:40","v":23.9},{"t":"2022-01-20T08:50","v":23.0},{"t":"2022-01-20T09:00","v":22.5},{"t":"2022-01-20T09:10","v":22.0},{"t":"2022-01-20T09:20","v":21.5},{"t":"2022-01-20T09:30","v":20.5},{"t":"2022-01-20T09:40","v":19.2},{"t":"2022-01-20T09:50","v":18.5},{"t":"2022-01-20T10:00","v":17.8},{"t":"2022-01-20T10:10","v":17.2},{"t":"2022-01-20T10:15","v":15.0},{"t":"2022-01-20T10:18","v":13.0},{"t":"2022-01-20T10:21","v":11.0},{"t":"2022-01-20T10:25","v":10.5},{"t":"2022-01-20T10:32","v":11.2},{"t":"2022-01-20T10:40","v":11.8},{"t":"2022-01-20T10:50","v":12.5},{"t":"2022-01-20T11:00","v":12.9},{"t":"2022-01-20T11:10","v":12.6},{"t":"2022-01-20T11:20","v":11.0},{"t":"2022-01-20T11:30","v":9.0},{"t":"2022-01-20T11:40","v":7.5},{"t":"2022-01-20T11:50","v":5.8},{"t":"2022-01-20T12:00","v":5.0},{"t":"2022-01-20T12:10","v":4.9},{"t":"2022-01-20T12:20","v":4.8},{"t":"2022-01-20T12:30","v":4.6},{"t":"2022-01-20T12:40","v":4.2},{"t":"2022-01-20T12:50","v":3.9},{"t":"2022-01-20T13:00","v":3.2},{"t":"2022-01-20T13:10","v":2.8},{"t":"2022-01-20T13:20","v":1.8},{"t":"2022-01-20T13:30","v":1.2},{"t":"2022-01-20T13:40","v":0.8},{"t":"2022-01-20T13:50","v":0.7},{"t":"2022-01-20T14:00","v":0.6},{"t":"2022-01-20T14:10","v":0.7},{"t":"2022-01-20T14:20","v":0.6},{"t":"2022-01-20T14:30","v":0.7},{"t":"2022-01-20T14:40","v":0.6},{"t":"2022-01-20T14:50","v":0.7},{"t":"2022-01-20T15:00","v":0.6},{"t":"2022-01-20T15:10","v":0.5},{"t":"2022-01-20T15:20","v":0.6},{"t":"2022-01-20T15:30","v":0.7},{"t":"2022-01-20T15:40","v":0.6},{"t":"2022-01-20T15:50","v":0.5},{"t":"2022-01-20T16:00","v":0.6},{"t":"2022-01-20T16:10","v":0.7},{"t":"2022-01-20T16:20","v":0.8},

      {"t":"2022-01-21T06:50","v":2.8},{"t":"2022-01-21T07:00","v":3.0},{"t":"2022-01-21T07:10","v":2.6},{"t":"2022-01-21T07:20","v":2.8},{"t":"2022-01-21T07:30","v":3.2},{"t":"2022-01-21T07:40","v":2.8},{"t":"2022-01-21T07:50","v":2.5},{"t":"2022-01-21T08:00","v":2.8},{"t":"2022-01-21T08:10","v":3.0},{"t":"2022-01-21T08:20","v":2.7},{"t":"2022-01-21T08:30","v":3.5},{"t":"2022-01-21T08:40","v":5.0},{"t":"2022-01-21T08:50","v":6.5},{"t":"2022-01-21T09:00","v":7.0},{"t":"2022-01-21T09:10","v":5.5},{"t":"2022-01-21T09:20","v":4.2},{"t":"2022-01-21T09:30","v":4.0},{"t":"2022-01-21T09:40","v":3.0},{"t":"2022-01-21T09:50","v":2.0},{"t":"2022-01-21T10:00","v":1.4},{"t":"2022-01-21T10:10","v":1.2},{"t":"2022-01-21T10:20","v":1.5},{"t":"2022-01-21T10:30","v":1.3},{"t":"2022-01-21T10:40","v":1.6},{"t":"2022-01-21T10:50","v":1.4},{"t":"2022-01-21T11:00","v":1.2},{"t":"2022-01-21T11:10","v":1.5},{"t":"2022-01-21T11:20","v":1.3},{"t":"2022-01-21T11:30","v":1.6},{"t":"2022-01-21T11:40","v":1.4},{"t":"2022-01-21T11:50","v":1.2},{"t":"2022-01-21T12:00","v":1.5},{"t":"2022-01-21T12:10","v":1.8},{"t":"2022-01-21T12:20","v":1.4},{"t":"2022-01-21T12:30","v":1.2},{"t":"2022-01-21T12:40","v":1.5},{"t":"2022-01-21T12:50","v":4.2},{"t":"2022-01-21T12:52","v":14.5},{"t":"2022-01-21T12:54","v":13.5},{"t":"2022-01-21T12:56","v":12.5},{"t":"2022-01-21T12:58","v":11.8},{"t":"2022-01-21T13:00","v":4.0},{"t":"2022-01-21T13:10","v":2.0},{"t":"2022-01-21T13:20","v":1.4},{"t":"2022-01-21T13:30","v":1.2},{"t":"2022-01-21T13:40","v":1.5},{"t":"2022-01-21T13:50","v":1.3},{"t":"2022-01-21T14:00","v":1.2},{"t":"2022-01-21T14:10","v":1.4},{"t":"2022-01-21T14:20","v":1.6},{"t":"2022-01-21T14:30","v":2.4},{"t":"2022-01-21T14:40","v":2.8},{"t":"2022-01-21T14:50","v":2.5},{"t":"2022-01-21T15:00","v":2.2},{"t":"2022-01-21T15:10","v":2.0},{"t":"2022-01-21T15:20","v":1.8},{"t":"2022-01-21T15:30","v":2.0},{"t":"2022-01-21T15:40","v":1.8},{"t":"2022-01-21T15:50","v":2.0},{"t":"2022-01-21T16:00","v":2.2},{"t":"2022-01-21T16:10","v":1.9},{"t":"2022-01-21T16:20","v":2.0},{"t":"2022-01-21T16:30","v":2.2},{"t":"2022-01-21T16:40","v":1.8},{"t":"2022-01-21T16:50","v":2.0},{"t":"2022-01-21T17:00","v":2.1},{"t":"2022-01-21T17:05","v":1.9},

      {"t":"2022-01-22T06:55","v":9.4},{"t":"2022-01-22T06:58","v":7.5},{"t":"2022-01-22T07:00","v":6.0},{"t":"2022-01-22T07:10","v":6.3},{"t":"2022-01-22T07:20","v":6.0},{"t":"2022-01-22T07:30","v":6.3},{"t":"2022-01-22T07:40","v":6.0},{"t":"2022-01-22T07:50","v":6.5},{"t":"2022-01-22T08:00","v":7.0},{"t":"2022-01-22T08:10","v":8.0},{"t":"2022-01-22T08:20","v":8.8},{"t":"2022-01-22T08:30","v":8.0},{"t":"2022-01-22T08:40","v":7.5},{"t":"2022-01-22T08:50","v":7.0},{"t":"2022-01-22T09:00","v":6.5},{"t":"2022-01-22T09:10","v":6.0},{"t":"2022-01-22T09:20","v":5.2},{"t":"2022-01-22T09:30","v":5.0},{"t":"2022-01-22T09:40","v":4.8},{"t":"2022-01-22T09:50","v":4.6},{"t":"2022-01-22T10:00","v":4.5},{"t":"2022-01-22T10:10","v":4.6},{"t":"2022-01-22T10:20","v":5.0},{"t":"2022-01-22T10:30","v":4.0},{"t":"2022-01-22T10:40","v":3.0},{"t":"2022-01-22T10:50","v":2.8},{"t":"2022-01-22T11:00","v":2.5},{"t":"2022-01-22T11:10","v":1.8},{"t":"2022-01-22T11:20","v":1.4},{"t":"2022-01-22T11:30","v":1.4},{"t":"2022-01-22T11:40","v":1.2},{"t":"2022-01-22T11:50","v":1.0},{"t":"2022-01-22T12:00","v":0.6},{"t":"2022-01-22T12:10","v":0.3},{"t":"2022-01-22T12:20","v":0.2},{"t":"2022-01-22T12:30","v":0.3},{"t":"2022-01-22T12:40","v":0.2},{"t":"2022-01-22T12:50","v":0.2},{"t":"2022-01-22T13:00","v":0.3},{"t":"2022-01-22T13:10","v":0.2},{"t":"2022-01-22T13:20","v":0.2},{"t":"2022-01-22T13:30","v":0.3},{"t":"2022-01-22T13:40","v":0.2},{"t":"2022-01-22T13:50","v":0.2},{"t":"2022-01-22T14:00","v":0.3},{"t":"2022-01-22T14:10","v":0.2}
    ]
  },
  "layer": [
    {
      "layer": [
        {
          "data": {"name": "tvoc"},
          "mark": {"type": "point", "filled": true, "size": 75, "opacity": 1, "strokeWidth": 0},
          "encoding": {
            "x": {
              "field": "t", "type": "temporal",
              "scale": {"domain": [{"year": 2022, "month": 1, "date": 17}, {"year": 2022, "month": 1, "date": 23}], "nice": false},
              "axis": {
                "orient": "bottom", "title": null,
                "values": [{"year": 2022, "month": 1, "date": 17}, {"year": 2022, "month": 1, "date": 18}, {"year": 2022, "month": 1, "date": 19}, {"year": 2022, "month": 1, "date": 20}, {"year": 2022, "month": 1, "date": 21}, {"year": 2022, "month": 1, "date": 22}, {"year": 2022, "month": 1, "date": 23}],
                "format": "%A, %B %-d, %Y",
                "grid": true, "gridColor": "#a6a6a6", "gridWidth": 1,
                "domain": false, "ticks": false, "tickSize": 0,
                "labelFontSize": 15.5, "labelBaseline": "middle", "labelPadding": 18,
                "labelFlush": false, "labelOverlap": false, "labelLimit": 0
              }
            },
            "y": {
              "field": "v", "type": "quantitative",
              "scale": {"domain": [0, 2], "nice": false},
              "axis": {
                "orient": "left", "title": "TVOC Concentration (ppmv)",
                "values": [0, 0.5, 1, 1.5, 2], "format": ".3f",
                "grid": true, "gridColor": "#d0d0d0",
                "domainColor": "#595959", "tickColor": "#595959", "tickSize": 5,
                "labelFontSize": 14.5, "labelPadding": 8,
                "titleFontSize": 17, "titleX": -73, "titleY": 237.5, "titleAngle": 270,
                "titleBaseline": "middle", "titleAlign": "center"
              }
            },
            "color": {
              "datum": "AQM Station 6 TVOC", "type": "nominal",
              "scale": {"domain": ["TVOC Action Level = 1.0 ppmv", "AQM Station 6 TVOC", "AQM Station 6 PM10 Dust", "PM10 Dust Action Level = 150 ug/m3"], "range": ["#4472C4", "#4472C4", "#FF0000", "#FF0000"]},
              "legend": {
                "orient": "none", "legendX": 276, "legendY": 530, "direction": "horizontal", "title": null,
                "labelFont": "Liberation Sans", "labelFontSize": 14.3, "labelColor": "#000000", "labelLimit": 0,
                "columnPadding": 50, "labelOffset": 19.5, "symbolSize": 50, "padding": 0
              }
            },
            "shape": {
              "datum": "AQM Station 6 TVOC", "type": "nominal",
              "scale": {"domain": ["TVOC Action Level = 1.0 ppmv", "AQM Station 6 TVOC", "AQM Station 6 PM10 Dust", "PM10 Dust Action Level = 150 ug/m3"], "range": ["M-5.63,-0.28H-2.81V0.28H-5.63ZM-1.12,-0.28H1.7V0.28H-1.12ZM3.39,-0.28H6.21V0.28H3.39Z", "circle", "circle", "M-5.63,-0.28H-2.81V0.28H-5.63ZM-1.12,-0.28H1.7V0.28H-1.12ZM3.39,-0.28H6.21V0.28H3.39Z"]},
              "legend": {
                "orient": "none", "legendX": 276, "legendY": 530, "direction": "horizontal", "title": null,
                "labelFont": "Liberation Sans", "labelFontSize": 14.3, "labelColor": "#000000", "labelLimit": 0,
                "columnPadding": 50, "labelOffset": 19.5, "symbolSize": 50, "padding": 0
              }
            }
          }
        },
        {
          "data": {"values": [{}]},
          "mark": {"type": "rule", "color": "#4472C4", "strokeDash": [8, 5], "strokeWidth": 2},
          "encoding": {"y": {"datum": 1, "type": "quantitative"}}
        },
        {
          "data": {"values": [{}]},
          "mark": {"type": "text", "text": "TVOC Action Level = 1.0 ppmv", "font": "Liberation Sans", "fontSize": 14.5, "fill": "white", "stroke": "white", "strokeWidth": 16, "baseline": "middle", "align": "center"},
          "encoding": {"y": {"datum": 1.09, "type": "quantitative"}}
        },
        {
          "data": {"values": [{}]},
          "mark": {"type": "text", "text": "TVOC Action Level = 1.0 ppmv", "font": "Liberation Sans", "fontSize": 14.5, "color": "#000000", "baseline": "middle", "align": "center"},
          "encoding": {"y": {"datum": 1.09, "type": "quantitative"}}
        }
      ]
    },
    {
      "layer": [
        {
          "data": {"name": "pm"},
          "mark": {"type": "point", "filled": true, "size": 75, "opacity": 1, "strokeWidth": 0},
          "encoding": {
            "x": {
              "field": "t", "type": "temporal",
              "scale": {"domain": [{"year": 2022, "month": 1, "date": 17}, {"year": 2022, "month": 1, "date": 23}], "nice": false},
              "axis": {
                "orient": "bottom", "title": null,
                "values": [
                  {"year": 2022, "month": 1, "date": 17, "hours": 0}, {"year": 2022, "month": 1, "date": 17, "hours": 6}, {"year": 2022, "month": 1, "date": 17, "hours": 12}, {"year": 2022, "month": 1, "date": 17, "hours": 18},
                  {"year": 2022, "month": 1, "date": 18, "hours": 0}, {"year": 2022, "month": 1, "date": 18, "hours": 6}, {"year": 2022, "month": 1, "date": 18, "hours": 12}, {"year": 2022, "month": 1, "date": 18, "hours": 18},
                  {"year": 2022, "month": 1, "date": 19, "hours": 0}, {"year": 2022, "month": 1, "date": 19, "hours": 6}, {"year": 2022, "month": 1, "date": 19, "hours": 12}, {"year": 2022, "month": 1, "date": 19, "hours": 18},
                  {"year": 2022, "month": 1, "date": 20, "hours": 0}, {"year": 2022, "month": 1, "date": 20, "hours": 6}, {"year": 2022, "month": 1, "date": 20, "hours": 12}, {"year": 2022, "month": 1, "date": 20, "hours": 18},
                  {"year": 2022, "month": 1, "date": 21, "hours": 0}, {"year": 2022, "month": 1, "date": 21, "hours": 6}, {"year": 2022, "month": 1, "date": 21, "hours": 12}, {"year": 2022, "month": 1, "date": 21, "hours": 18},
                  {"year": 2022, "month": 1, "date": 22, "hours": 0}, {"year": 2022, "month": 1, "date": 22, "hours": 6}, {"year": 2022, "month": 1, "date": 22, "hours": 12}, {"year": 2022, "month": 1, "date": 22, "hours": 18},
                  {"year": 2022, "month": 1, "date": 23, "hours": 0}
                ],
                "format": "%-I:%M %p",
                "grid": false, "domain": true, "domainColor": "#595959", "tickColor": "#595959", "tickSize": 5,
                "labelFontSize": 12, "labelBaseline": "middle", "labelPadding": 32,
                "labelFlush": false, "labelOverlap": false, "labelLimit": 0
              }
            },
            "y": {
              "field": "v", "type": "quantitative",
              "scale": {"domain": [0, 200], "nice": false},
              "axis": {
                "orient": "right", "title": "PM10 (respirable dust) Concentration (µg/m³)",
                "values": [0, 10, 20, 30, 40, 50, 60, 70, 80, 90, 100, 110, 120, 130, 140, 150, 160, 170, 180, 190, 200],
                "labelExpr": "datum.value % 50 == 0 ? datum.label : ''",
                "format": "d", "grid": false, "labelOverlap": false,
                "domainColor": "#595959", "tickColor": "#595959", "tickSize": 5,
                "labelFontSize": 14.5, "labelPadding": 8,
                "titleFontSize": 15, "titleX": 78, "titleY": 237.5, "titleAngle": 90,
                "titleBaseline": "middle", "titleAlign": "center"
              }
            },
            "color": {
              "datum": "AQM Station 6 PM10 Dust", "type": "nominal",
              "scale": {"domain": ["TVOC Action Level = 1.0 ppmv", "AQM Station 6 TVOC", "AQM Station 6 PM10 Dust", "PM10 Dust Action Level = 150 ug/m3"], "range": ["#4472C4", "#4472C4", "#FF0000", "#FF0000"]},
              "legend": {
                "orient": "none", "legendX": 276, "legendY": 530, "direction": "horizontal", "title": null,
                "labelFont": "Liberation Sans", "labelFontSize": 14.3, "labelColor": "#000000", "labelLimit": 0,
                "columnPadding": 50, "labelOffset": 19.5, "symbolSize": 50, "padding": 0
              }
            },
            "shape": {
              "datum": "AQM Station 6 PM10 Dust", "type": "nominal",
              "scale": {"domain": ["TVOC Action Level = 1.0 ppmv", "AQM Station 6 TVOC", "AQM Station 6 PM10 Dust", "PM10 Dust Action Level = 150 ug/m3"], "range": ["M-5.63,-0.28H-2.81V0.28H-5.63ZM-1.12,-0.28H1.7V0.28H-1.12ZM3.39,-0.28H6.21V0.28H3.39Z", "circle", "circle", "M-5.63,-0.28H-2.81V0.28H-5.63ZM-1.12,-0.28H1.7V0.28H-1.12ZM3.39,-0.28H6.21V0.28H3.39Z"]},
              "legend": {
                "orient": "none", "legendX": 276, "legendY": 530, "direction": "horizontal", "title": null,
                "labelFont": "Liberation Sans", "labelFontSize": 14.3, "labelColor": "#000000", "labelLimit": 0,
                "columnPadding": 50, "labelOffset": 19.5, "symbolSize": 50, "padding": 0
              }
            }
          }
        },
        {
          "data": {"values": [{}]},
          "mark": {"type": "rule", "color": "#FF0000", "strokeDash": [8, 5], "strokeWidth": 2},
          "encoding": {"y": {"datum": 150, "type": "quantitative"}}
        },
        {
          "data": {"values": [{}]},
          "mark": {"type": "text", "text": "PM10 Action Level = 150 µg/m³", "font": "Liberation Sans", "fontSize": 14.5, "fill": "white", "stroke": "white", "strokeWidth": 16, "baseline": "middle", "align": "center"},
          "encoding": {"y": {"datum": 159, "type": "quantitative"}}
        },
        {
          "data": {"values": [{}]},
          "mark": {"type": "text", "text": "PM10 Action Level = 150 µg/m³", "font": "Liberation Sans", "fontSize": 14.5, "color": "#000000", "baseline": "middle", "align": "center"},
          "encoding": {"y": {"datum": 159, "type": "quantitative"}}
        }
      ]
    }
  ],
  "resolve": {"scale": {"y": "independent"}, "axis": {"x": "independent"}}
}
